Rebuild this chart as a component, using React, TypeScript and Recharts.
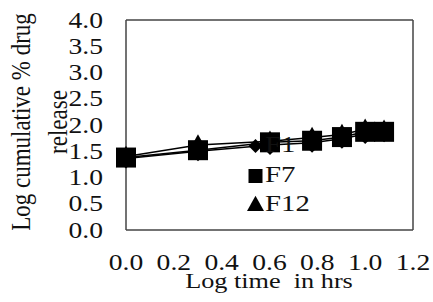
import React from 'react';
import { LineChart, Line, XAxis, YAxis, Legend, CartesianGrid } from 'recharts';

const logTime = [0, 0.301, 0.602, 0.778, 0.903, 1.0, 1.079];
const f1 = [1.36, 1.5, 1.62, 1.66, 1.74, 1.83, 1.86];
const f7 = [1.38, 1.52, 1.67, 1.7, 1.77, 1.87, 1.87];
const f12 = [1.4, 1.62, 1.69, 1.76, 1.82, 1.92, 1.9];
const xTicks = [0, 0.2, 0.4, 0.6, 0.8, 1.0, 1.2];
const yTicks = [0, 0.5, 1.0, 1.5, 2.0, 2.5, 3.0, 3.5, 4.0];
const xBounds = [0, 1.2];
const yBounds = [0, 4];
const seriesNames = ['F1', 'F7', 'F12'];

const data = logTime.map((x, i) => ({ x, F1: f1[i], F7: f7[i], F12: f12[i] }));

const FONT = 'Liberation Serif, Times New Roman, serif';
const SX = 1.2;
const BOX = '#444';

type Kind = 'diamond' | 'square' | 'triangle';

function marker(kind: Kind, cx: number, cy: number, s: number, key?: string | number) {
  const h = s / 2;
  if (kind === 'square') {
    return <rect key={key} x={cx - h} y={cy - h} width={s} height={s} fill="#000" />;
  }
  if (kind === 'triangle') {
    const th = s * 0.9;
    return (
      <polygon
        key={key}
        points={`${cx},${cy - th * 0.6} ${cx + h},${cy + th * 0.4} ${cx - h},${cy + th * 0.4}`}
        fill="#000"
      />
    );
  }
  return (
    <polygon
      key={key}
      points={`${cx},${cy - h} ${cx + h},${cy} ${cx},${cy + h} ${cx - h},${cy}`}
      fill="#000"
    />
  );
}

const kinds: Kind[] = ['diamond', 'square', 'triangle'];

const makeDot = (kind: Kind, size: number) => (props: any) => {
  const { cx, cy, index } = props;
  if (cx == null || cy == null) return <g key={`n-${kind}-${index}`} />;
  return marker(kind, cx, cy, size, `${kind}-${index}`);
};

const XTick = (props: any) => {
  const { x, y, payload } = props;
  return (
    <g transform={`translate(${x},${y + 39.5}) scale(${SX},1)`}>
      <text x={0} y={0} textAnchor="middle" fontFamily={FONT} fontSize={23} fill="#111">
        {Number(payload.value).toFixed(1)}
      </text>
    </g>
  );
};

const YTick = (props: any) => {
  const { x, y, payload } = props;
  return (
    <g transform={`translate(${x - 23},${y + 7.5}) scale(${SX},1)`}>
      <text x={0} y={0} textAnchor="end" fontFamily={FONT} fontSize={23} fill="#111">
        {Number(payload.value).toFixed(1)}
      </text>
    </g>
  );
};

const LegendContent = () => (
  <div style={{ fontFamily: FONT, fontSize: 24, lineHeight: '29.5px', color: '#111', textAlign: 'left' }}>
    {seriesNames.map((n, i) => (
      <div key={n} style={{ display: 'flex', alignItems: 'center', height: 29.5, whiteSpace: 'nowrap' }}>
        <svg width={17} height={29.5} style={{ display: 'block' }}>
          {marker(kinds[i], 8.5, 16, i === 2 ? 17 : 14)}
        </svg>
        <span style={{ display: 'inline-block', transform: `scaleX(${SX})`, transformOrigin: 'left center', marginLeft: 1 }}>
          {n}
        </span>
      </div>
    ))}
  </div>
);

export default function App() {
  return (
    <div style={{ position: 'absolute', left: 0, top: 0, width: 433, height: 302, background: '#fff' }}>
      <LineChart width={433} height={302} data={data} margin={{ top: 20, right: 20, bottom: 0, left: 0 }}>
        <XAxis
          xAxisId="b"
          dataKey="x"
          type="number"
          domain={[0, 1.2]}
          ticks={xTicks}
          tickLine={false}
          axisLine={false}
          tickSize={0}
          tickMargin={0}
          height={72}
          tick={<XTick />}
          interval={0}
          label={{
            content: () => (
              <g transform={`translate(269,288) scale(1.25,1)`}>
                <text x={0} y={0} textAnchor="middle" fontFamily={FONT} fontSize={21} fill="#111" style={{ whiteSpace: 'pre' }}>
                  {'Log time  in hrs'}
                </text>
              </g>
            ),
          }}
        />
        <XAxis xAxisId="t" dataKey="x" type="number" domain={[0, 1.2]} ticks={xBounds} hide />
        <YAxis
          yAxisId="l"
          type="number"
          domain={[0, 4]}
          ticks={yTicks}
          tickLine={false}
          axisLine={false}
          tickSize={0}
          tickMargin={0}
          width={126}
          tick={<YTick />}
          interval={0}
          label={{
            content: () => (
              <g>
                <g transform={`translate(30,122) scale(${SX},1) rotate(-90)`}>
                  <text x={0} y={0} textAnchor="middle" fontFamily={FONT} fontSize={23} fill="#111">
                    Log cumulative % drug
                  </text>
                </g>
                <g transform={`translate(67,122) scale(${SX},1) rotate(-90)`}>
                  <text x={0} y={0} textAnchor="middle" fontFamily={FONT} fontSize={23} fill="#111">
                    release
                  </text>
                </g>
              </g>
            ),
          }}
        />
        <YAxis yAxisId="r" type="number" domain={[0, 4]} ticks={yBounds} hide />
        <CartesianGrid xAxisId="t" yAxisId="r" stroke={BOX} strokeWidth={1.5} strokeDasharray="" />
        <Legend
          layout="horizontal"
          verticalAlign="middle"
          align="center"
          content={<LegendContent />}
          wrapperStyle={{ position: 'absolute', left: 247, top: 130, width: 90, margin: 0, padding: 0 }}
        />
        <Line xAxisId="b" yAxisId="l" dataKey="F1" stroke="#000" strokeWidth={1.5} dot={makeDot('diamond', 20)} isAnimationActive={false} />
        <Line xAxisId="b" yAxisId="l" dataKey="F7" stroke="#000" strokeWidth={1.5} dot={makeDot('square', 20)} isAnimationActive={false} />
        <Line xAxisId="b" yAxisId="l" dataKey="F12" stroke="#000" strokeWidth={1.5} dot={makeDot('triangle', 20)} isAnimationActive={false} />
      </LineChart>
    </div>
  );
}
